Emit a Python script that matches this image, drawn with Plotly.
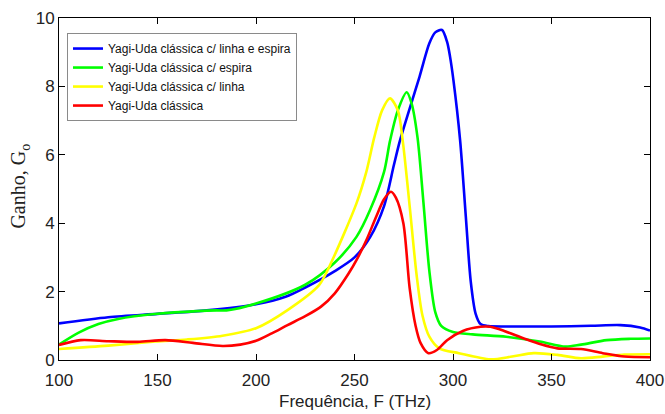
import plotly.graph_objects as go

# Gain vs frequency for four Yagi-Uda nanoantenna variants
blue_x = [100, 125, 150, 175, 200, 215, 225, 240, 250, 258, 265, 270, 273, 278, 283, 288, 291, 294.4, 297, 298.5, 300.2, 303.6, 306.5, 309, 311.5, 314, 318, 330, 350, 370, 385, 395, 400]
blue_y = [1.07, 1.25, 1.35, 1.45, 1.63, 1.85, 2.12, 2.6, 3.0, 3.6, 4.5, 5.7, 6.4, 7.35, 8.28, 9.26, 9.58, 9.65, 9.3, 8.87, 8.19, 6.43, 4.2, 2.3, 1.35, 1.05, 0.99, 0.98, 0.98, 1.0, 1.02, 0.95, 0.86]

green_x = [100, 110, 120, 130, 150, 170, 180, 185, 200, 225, 240, 251, 258, 265, 268, 272, 276.5, 279, 282, 285, 288, 291, 294, 300, 310, 327, 344, 357, 365, 378, 390, 400]
green_y = [0.45, 0.8, 1.05, 1.2, 1.35, 1.43, 1.45, 1.45, 1.65, 2.2, 2.85, 3.6, 4.4, 5.5, 6.4, 7.3, 7.83, 7.5, 6.5, 4.6, 2.6, 1.4, 1.0, 0.82, 0.75, 0.68, 0.54, 0.39, 0.45, 0.58, 0.62, 0.63]

yellow_x = [100, 125, 149, 165, 183, 200, 216, 232, 238, 251, 256, 260, 264, 268, 272, 274.5, 278, 281.5, 284.5, 288, 293, 303, 319, 330, 341, 353, 365, 376, 387, 400]
yellow_y = [0.32, 0.42, 0.54, 0.6, 0.71, 0.93, 1.46, 2.19, 2.83, 4.58, 5.5, 6.5, 7.3, 7.65, 7.3, 6.4, 4.5, 2.5, 1.3, 0.68, 0.34, 0.2, 0.02, 0.1, 0.2, 0.15, 0.05, 0.1, 0.16, 0.17]

red_x = [100, 111, 125, 140, 154, 168, 183, 192, 200, 208, 216, 225, 233, 240, 247, 251, 256, 261, 265, 268.5, 271, 274.8, 278, 281, 283.5, 287.5, 292, 297, 305, 314, 319, 326, 336, 345, 353, 365, 376, 387, 400]
red_y = [0.44, 0.58, 0.55, 0.53, 0.58, 0.5, 0.41, 0.45, 0.56, 0.78, 1.02, 1.28, 1.56, 1.95, 2.53, 2.92, 3.5, 4.19, 4.7, 4.92, 4.75, 4.0, 2.1, 1.0, 0.5, 0.2, 0.3, 0.58, 0.85, 0.97, 0.97, 0.85, 0.63, 0.45, 0.34, 0.32, 0.2, 0.1, 0.08]

series = [
    ("Yagi-Uda clássica c/ linha e espira", blue_x, blue_y, "#0000ff"),
    ("Yagi-Uda clássica c/ espira", green_x, green_y, "#00ff00"),
    ("Yagi-Uda clássica c/ linha", yellow_x, yellow_y, "#ffff00"),
    ("Yagi-Uda clássica", red_x, red_y, "#ff0000"),
]

x_ticks = [100, 150, 200, 250, 300, 350, 400]
y_ticks = [0, 2, 4, 6, 8, 10]

sans = "Liberation Sans, Arial"
serif = "Liberation Serif, Times New Roman, serif"

fig = go.Figure()
for name, xs, ys, color in series:
    fig.add_trace(go.Scatter(
        x=xs, y=ys, name=name, mode="lines",
        line=dict(color=color, width=2.6, shape="spline", smoothing=0.8),
    ))

axis_common = dict(
    showline=True, linecolor="black", linewidth=1, mirror="ticks",
    ticks="inside", ticklen=6, tickcolor="black", tickwidth=1,
    showgrid=False, zeroline=False, automargin=False,
    tickfont=dict(family=sans, size=17, color="#222"),
)

fig.update_layout(
    width=665, height=414,
    margin=dict(l=59, r=15, t=18, b=54),
    plot_bgcolor="white", paper_bgcolor="white",
    showlegend=True,
    legend=dict(
        x=0.0135, y=0.956, xanchor="left", yanchor="top",
        bgcolor="white", bordercolor="#8a8a8a", borderwidth=1,
        font=dict(family=sans, size=12, color="#111"),
        tracegroupgap=0, itemwidth=30,
    ),
    xaxis=dict(range=[100, 400], tickvals=x_ticks, ticklabelstandoff=5, **axis_common),
    yaxis=dict(range=[0, 10], tickvals=y_ticks, **axis_common),
    annotations=[
        dict(text="Frequência, F (THz)", xref="paper", yref="paper",
             x=0.5, y=-0.122, xanchor="center", yanchor="middle",
             showarrow=False, font=dict(family=sans, size=17, color="#222")),
        dict(text="Ganho, G<sub>o</sub>", xref="paper", yref="paper",
             x=-0.066, y=0.51, xanchor="center", yanchor="middle", textangle=-90,
             showarrow=False, font=dict(family=serif, size=20, color="#222")),
    ],
)

fig.write_html("out.html")
